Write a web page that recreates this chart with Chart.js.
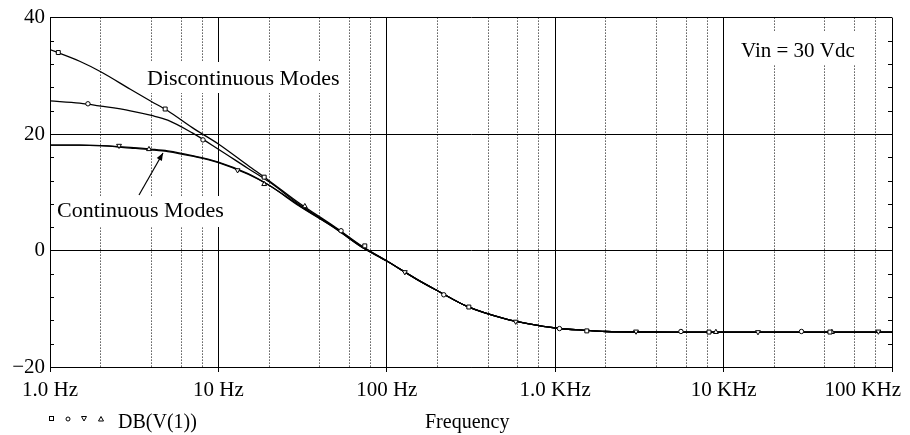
<!DOCTYPE html>
<html><head><meta charset="utf-8">
<script src="https://cdn.jsdelivr.net/npm/chart.js@4/dist/chart.umd.min.js"></script>
<style>html,body{margin:0;padding:0;background:#fff}#wrap{width:910px;height:435px;position:relative}</style>
</head><body><div id="wrap"><canvas id="c" width="910" height="435"></canvas></div>
<script>
// ---- data ----
const freqHz = [1, 1.5, 2, 3, 4, 5, 7, 10, 15, 20, 30, 50, 70, 100, 150, 200, 300, 500, 700, 1000, 1500, 2000, 5000, 10000, 20000, 50000, 100000];
const dbDiscUpper = [34.5, 32.5, 30.7, 27.7, 25.6, 24.0, 21.1, 18.3, 14.6, 12.0, 8.2, 3.9, 0.9, -1.8, -4.9, -6.9, -9.6, -11.7, -12.6, -13.3, -13.7, -13.9, -14.0, -14.0, -14.0, -14.0, -14.0];
const dbDiscLower = [25.7, 25.3, 24.8, 24.0, 23.2, 22.4, 20.2, 17.4, 14.1, 11.8, 8.0, 3.8, 0.8, -1.8, -4.9, -6.9, -9.6, -11.7, -12.6, -13.3, -13.7, -13.9, -14.0, -14.0, -14.0, -14.0, -14.0];
const dbContA = [18.1, 18.1, 18.0, 17.7, 17.4, 17.1, 16.3, 15.2, 13.2, 11.2, 7.8, 3.7, 0.7, -1.8, -4.9, -6.9, -9.6, -11.7, -12.6, -13.3, -13.7, -13.9, -14.0, -14.0, -14.0, -14.0, -14.0];
const dbContB = [18.1, 18.1, 18.0, 17.6, 17.3, 17.0, 16.2, 15.1, 13.1, 11.2, 7.7, 3.7, 0.7, -1.8, -4.9, -6.9, -9.6, -11.7, -12.6, -13.3, -13.7, -13.9, -14.0, -14.0, -14.0, -14.0, -14.0];

const markFreqSquare = [1.12, 4.83, 18.7, 74, 307, 1540, 8190, 42800];
const markDbSquare   = [34.0, 24.3, 12.6, 0.8, -9.7, -13.8, -14.0, -14.0];
const markFreqCircle = [1.68, 8.1, 53.5, 218, 1060, 5580, 29000];
const markDbCircle   = [25.2, 19.0, 3.4, -7.6, -13.4, -13.9, -13.9];
const markFreqDown   = [2.57, 13.0, 128, 583, 3020, 16000, 83000];
const markDbDown     = [18.0, 13.8, -3.7, -12.2, -13.9, -14.0, -13.9];
const markFreqUp     = [3.87, 18.7, 32.6, 9000, 44000];
const markDbUp       = [17.4, 11.4, 7.6, -14.0, -14.0];

const xDecades = [1, 10, 100, 1000, 10000, 100000];
const xTickLabels = ['1.0 Hz', '10 Hz', '100 Hz', '1.0 KHz', '10 KHz', '100 KHz'];
const xMinorMultipliers = [2, 4, 6, 8];
const yTickValues = [-20, 0, 20, 40];
const yTickLabels = ['\u221220', '0', '20', '40'];
const yMinorStep = 4;

const legendText = 'DB(V(1))';
const xTitle = 'Frequency';
const noteDisc = 'Discontinuous Modes';
const noteCont = 'Continuous Modes';
const noteVin = 'Vin = 30 Vdc';

// ---- chart ----
const FONT = '"Liberation Serif", "Times New Roman", serif';
Chart.defaults.font.family = FONT;
Chart.defaults.font.size = 21;
Chart.defaults.color = '#000';

const pts = (xs, ys) => xs.map((x, i) => ({x: x, y: ys[i]}));
const gridValues = [];
xDecades.forEach((d, i) => {
  gridValues.push(d);
  if (i < xDecades.length - 1) xMinorMultipliers.forEach(m => gridValues.push(d * m));
});
const isDecade = v => xDecades.some(d => Math.abs(d - v) / d < 1e-9);

const curveDs = (data) => ({
  data: data, borderColor: '#000', borderWidth: 1.3, pointRadius: 0,
  cubicInterpolationMode: 'monotone', fill: false, order: 2
});
const markDs = (data, style, rot) => ({
  data: data, showLine: false, pointStyle: style, rotation: rot || 0,
  pointRadius: style === 'circle' ? 2.2 : 2.8, borderColor: '#000', backgroundColor: '#fff',
  pointBorderWidth: 1, order: 1
});

const annot = {
  id: 'annot',
  beforeDatasetsDraw(chart) {
    const ctx = chart.ctx;
    ctx.save();
    ctx.fillStyle = '#fff';
    ctx.fillRect(140, 62, 205, 31);
    ctx.fillRect(51, 196, 182, 31);
    ctx.fillRect(733, 32, 129, 32);
    ctx.restore();
  },
  afterDatasetsDraw(chart) {
    const ctx = chart.ctx;
    ctx.save();
    ctx.fillStyle = '#000';
    ctx.textAlign = 'left';
    ctx.textBaseline = 'alphabetic';
    ctx.font = '22px ' + FONT;
    ctx.fillText(noteDisc, 147, 85);
    ctx.fillText(noteCont, 57, 217);
    ctx.font = '21px ' + FONT;
    ctx.fillText(noteVin, 741, 57);
    // arrow
    ctx.strokeStyle = '#000';
    ctx.lineWidth = 1.2;
    const x0 = 139, y0 = 195, x1 = 163, y1 = 153;
    ctx.beginPath(); ctx.moveTo(x0, y0); ctx.lineTo(x1, y1); ctx.stroke();
    const a = Math.atan2(y1 - y0, x1 - x0), L = 8, w = 0.38;
    ctx.beginPath();
    ctx.moveTo(x1, y1);
    ctx.lineTo(x1 - L * Math.cos(a - w), y1 - L * Math.sin(a - w));
    ctx.lineTo(x1 - L * Math.cos(a + w), y1 - L * Math.sin(a + w));
    ctx.closePath(); ctx.fillStyle = '#000'; ctx.fill();
    ctx.restore();
  },
  afterDraw(chart) {
    const ctx = chart.ctx;
    const xs = chart.scales.x, ys = chart.scales.y;
    const area = chart.chartArea;
    ctx.save();
    // minor ticks on left and right axes
    ctx.strokeStyle = '#000'; ctx.lineWidth = 1;
    for (let v = ys.min; v <= ys.max; v += yMinorStep) {
      if (yTickValues.includes(v)) continue;
      const y = Math.round(ys.getPixelForValue(v)) + 0.5;
      ctx.beginPath();
      ctx.moveTo(area.left, y); ctx.lineTo(area.left + 4, y);
      ctx.moveTo(area.right - 4, y); ctx.lineTo(area.right, y);
      ctx.stroke();
    }
    // x tick labels
    ctx.fillStyle = '#000';
    ctx.font = '21px ' + FONT;
    ctx.textBaseline = 'alphabetic';
    ctx.textAlign = 'center';
    xDecades.forEach((d, i) => {
      let px = xs.getPixelForValue(d);
      const w = ctx.measureText(xTickLabels[i]).width;
      if (px + w / 2 > chart.width - 9) px = chart.width - 9 - w / 2;
      ctx.fillText(xTickLabels[i], px, 396);
    });
    // legend markers
    const ly = 419;
    ctx.lineWidth = 1;
    ctx.strokeStyle = '#000';
    ctx.strokeRect(49.5, ly - 2.5, 4, 4);
    ctx.beginPath(); ctx.arc(68, ly, 2, 0, Math.PI * 2); ctx.stroke();
    ctx.beginPath(); ctx.moveTo(81.5, ly - 2.5); ctx.lineTo(86.5, ly - 2.5); ctx.lineTo(84, ly + 2); ctx.closePath(); ctx.stroke();
    ctx.beginPath(); ctx.moveTo(98.5, ly + 2); ctx.lineTo(103.5, ly + 2); ctx.lineTo(101, ly - 2.5); ctx.closePath(); ctx.stroke();
    ctx.font = '20px ' + FONT;
    ctx.textAlign = 'left';
    ctx.fillText(legendText, 118, 428);
    ctx.fillText(xTitle, 425, 428);
    ctx.restore();
  }
};

new Chart(document.getElementById('c'), {
  type: 'line',
  data: {
    datasets: [
      curveDs(pts(freqHz, dbDiscUpper)),
      curveDs(pts(freqHz, dbDiscLower)),
      curveDs(pts(freqHz, dbContA)),
      curveDs(pts(freqHz, dbContB)),
      markDs(pts(markFreqSquare, markDbSquare), 'rect'),
      markDs(pts(markFreqCircle, markDbCircle), 'circle'),
      markDs(pts(markFreqDown, markDbDown), 'triangle', 180),
      markDs(pts(markFreqUp, markDbUp), 'triangle')
    ]
  },
  options: {
    responsive: false, animation: false, devicePixelRatio: 1,
    layout: {padding: {top: 14, right: 18, left: 0, bottom: 0}},
    plugins: {legend: {display: false}, tooltip: {enabled: false}},
    scales: {
      x: {
        type: 'logarithmic', min: 1, max: 100000,
        afterBuildTicks: s => { s.ticks = gridValues.map(v => ({value: v, major: isDecade(v)})); },
        afterFit: s => { s.height = 68; },
        ticks: {display: false},
        grid: {
          color: '#000', lineWidth: 1, drawTicks: true, tickLength: 5,
          tickColor: c => (c.tick && isDecade(c.tick.value)) ? '#000' : 'rgba(0,0,0,0)'
        },
        border: {display: true, color: '#000', width: 1,
          dash: c => (c.tick && !isDecade(c.tick.value)) ? [1, 2] : []}
      },
      y: {
        min: -20, max: 40,
        afterBuildTicks: s => { s.ticks = yTickValues.map(v => ({value: v})); },
        afterFit: s => { s.width = 50; },
        ticks: {padding: 5, font: {size: 21}, callback: v => yTickLabels[yTickValues.indexOf(v)]},
        grid: {color: '#000', lineWidth: 1, drawTicks: false},
        border: {display: true, color: '#000', width: 1}
      }
    }
  },
  plugins: [annot]
});
</script></body></html>
